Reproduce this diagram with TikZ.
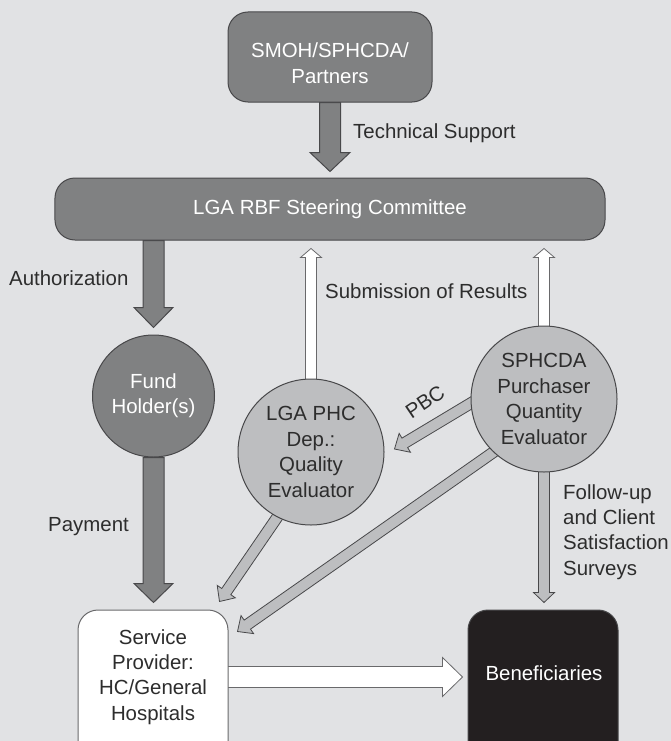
\documentclass[tikz,border=0pt]{standalone}
\usepackage{fontspec}
\setmainfont{Liberation Sans}
\usetikzlibrary{calc}
\pgfdeclarelayer{bg}
\pgfsetlayers{bg,main}
\definecolor{bgc}{RGB}{225,226,228}
\definecolor{darkf}{RGB}{128,129,130}
\definecolor{lightf}{RGB}{189,190,192}
\definecolor{edgec}{RGB}{72,72,74}
\definecolor{txtc}{RGB}{45,45,45}
\definecolor{benf}{RGB}{35,31,32}
\definecolor{whiteedge}{RGB}{105,105,107}
% #1 style, #2 start, #3 tip, #4 shaft half width, #5 head half width, #6 head length
\newcommand\blockarrow[6]{%
  \coordinate (ba-a) at (#2);
  \coordinate (ba-b) at (#3);
  \coordinate (ba-c) at ($(ba-b)!#6!(ba-a)$);
  \filldraw[#1] ($(ba-a)!#4!90:(ba-b)$) -- ($(ba-c)!#4!-90:(ba-a)$) -- ($(ba-c)!#5!-90:(ba-a)$) -- (ba-b) -- ($(ba-c)!#5!90:(ba-a)$) -- ($(ba-c)!#4!90:(ba-a)$) -- ($(ba-a)!#4!-90:(ba-b)$) -- cycle;
}
\begin{document}
\begin{tikzpicture}[x=1bp,y=-1bp,
  font=\fontsize{20.5}{25.5}\selectfont,
  darkbox/.style={draw=edgec, line width=1bp, fill=darkf, rounded corners=20bp, text=white, inner sep=0pt, align=center},
  circ/.style={circle, draw=edgec, line width=1bp, inner sep=0pt, align=center},
  lbl/.style={text=txtc, inner sep=0pt},
  darkarrow/.style={draw=edgec, line width=1bp, fill=darkf},
  lightarrow/.style={draw=edgec, line width=0.8bp, fill=lightf},
  whitearrow/.style={draw=whiteedge, line width=0.8bp, fill=white}]
\useasboundingbox (0,0) rectangle (671,741);
\clip (0,0) rectangle (671,741);
% nodes
\node[darkbox, minimum width=204bp, minimum height=90bp] (smoh) at (330,57) {};
\node[lbl, text=white, align=center] (smohtxt) at (330,63) {SMOH/SPHCDA/\\Partners};
\node[darkbox, minimum width=550bp, minimum height=62bp] (steer) at (330,209) {LGA RBF Steering Committee};
\node[circ, fill=darkf, text=white, minimum size=122bp] (fund) at (153.5,396) {Fund\\Holder(s)};
\node[circ, fill=lightf, text=txtc, minimum size=146bp] (lga) at (311,452) {LGA PHC\\Dep.:\\Quality\\Evaluator};
\node[circ, fill=lightf, text=txtc, minimum size=146bp] (sph) at (544,399) {SPHCDA\\Purchaser\\Quantity\\Evaluator};
\node[draw=whiteedge, line width=1bp, fill=white, rounded corners=20bp, minimum width=150bp, minimum height=180bp] (sp) at (153,700) {};
\node[lbl, align=center] (sptxt) at (153,677) {Service\\Provider:\\HC/General\\Hospitals};
\node[draw=edgec, line width=1bp, fill=benf, rounded corners=20bp, minimum width=150bp, minimum height=180bp] (ben) at (543,700) {};
\node[lbl, text=white] (bentxt) at (544,673) {Beneficiaries};
% labels
\node[lbl, anchor=base west] (ts) at (353,138.5) {Technical Support};
\node[lbl, anchor=base west] (auth) at (9,285.5) {Authorization};
\node[lbl, anchor=base west] (sub) at (325,298.5) {Submission of Results};
\node[lbl, anchor=base east] (pay) at (129,531.5) {Payment};
\node[lbl, anchor=west, align=left] (fu) at (563,532) {Follow-up\\and Client\\Satisfaction\\Surveys};
\node[lbl, rotate=34] (pbc) at (425,402) {PBC};
% arrows and background
\begin{pgfonlayer}{bg}
\fill[bgc] (0,0) rectangle (671,741);
\blockarrow{darkarrow}{smoh.south}{$(steer.north)+(0,-6)$}{10.5bp}{20bp}{19bp}
\blockarrow{darkarrow}{steer.south -| fund.center}{$(fund.north)+(0,-7)$}{10.5bp}{19.5bp}{20bp}
\blockarrow{darkarrow}{fund.south}{$(sp.north -| fund.center)+(0,-7)$}{10.5bp}{19.5bp}{19bp}
\blockarrow{whitearrow}{$(lga.center)!0.97!(lga.north)$}{$(lga.north |- steer.south)+(0,8)$}{5.5bp}{10.5bp}{9bp}
\blockarrow{whitearrow}{$(sph.center)!0.97!(sph.north)$}{$(sph.north |- steer.south)+(0,8)$}{5.5bp}{10.5bp}{9bp}
\blockarrow{lightarrow}{$(sph.center)!0.97!(sph.south)$}{$(sph.south |- ben.north)+(0,-7)$}{5.5bp}{10.5bp}{10bp}
\blockarrow{whitearrow}{$(sp.east |- sptxt.center)+(-2,0)$}{$(ben.west |- sptxt.center)+(-5,0)$}{10.5bp}{19.5bp}{20bp}
\blockarrow{lightarrow}{$(sph.center)!0.9!(sph.west)$}{$(lga.east)+(10,-3)$}{5.5bp}{11bp}{12bp}
\blockarrow{lightarrow}{$(lga.center)!0.95!(lga.243)$}{$(sp.north east)+(-9,-8)$}{5.5bp}{11bp}{12bp}
\blockarrow{lightarrow}{$(sph.center)!0.95!(sph.227)$}{$(sp.north east)+(9,22)$}{5.5bp}{11bp}{12bp}
\end{pgfonlayer}
\end{tikzpicture}
\end{document}
